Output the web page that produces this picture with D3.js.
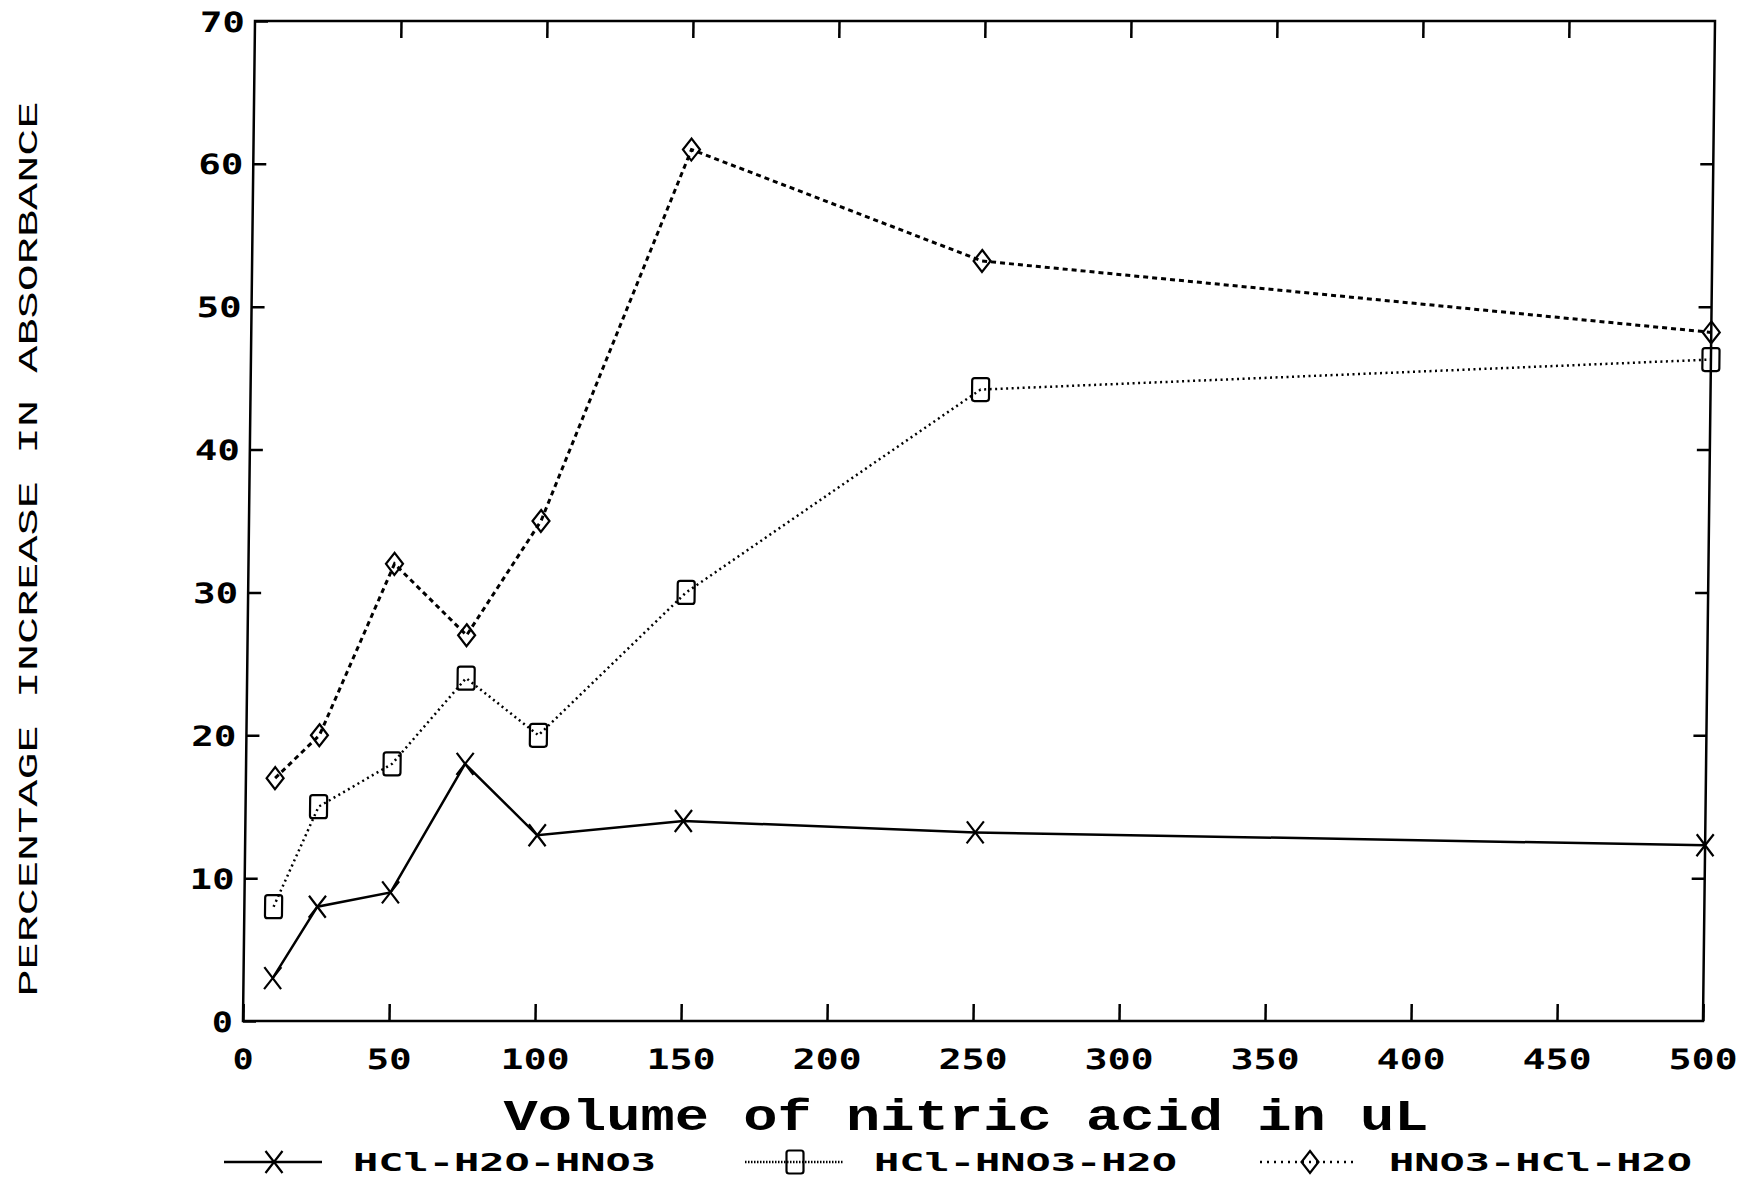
<!DOCTYPE html>
<html>
<head>
<meta charset="utf-8">
<script src="https://cdn.jsdelivr.net/npm/d3@7"></script>
<style>
  html, body { margin: 0; padding: 0; background: #fff; }
  svg { display: block; }
</style>
</head>
<body>
<svg id="chart" width="1757" height="1181"></svg>
<script>
// data
const volumes = [10, 25, 50, 75, 100, 150, 250, 500];
const hclH2oHno3 = [3, 8, 9, 18, 13, 14, 13.2, 12.3];
const hclHno3H2o = [8, 15, 18, 24, 20, 30, 44.2, 46.3];
const hno3HclH2o = [17, 20, 32, 27, 35, 61, 53.2, 48.2];

const seriesNames = ['HCl-H2O-HNO3', 'HCl-HNO3-H2O', 'HNO3-HCl-H2O'];
const xTicks = [0, 50, 100, 150, 200, 250, 300, 350, 400, 450, 500];
const yTicks = [0, 10, 20, 30, 40, 50, 60, 70];
const xTitle = 'Volume of nitric acid in uL';
const yTitle = 'PERCENTAGE INCREASE IN ABSORBANCE';

// look of each series: marker, dash pattern
const styles = [
    { marker: 'x', dash: null, width: 2.5, legendDash: null },
    { marker: 'square', dash: '2,3.5', width: 2.5, legendDash: '1.5,1.5' },
    { marker: 'diamond', dash: '5,4', width: 3, legendDash: '2,5' },
];

const svg = d3.select('#chart');
const box = { left: 249, right: 1709, top: 21, bottom: 1021 };

const x = d3.scaleLinear().domain([0, 500]).range([box.left, box.right]);
const y = d3.scaleLinear().domain([0, 70]).range([box.bottom, box.top]);

const tickFont = 'DejaVu Sans Mono, monospace';
const tickAdv = 24;

// the scan leans a little, so shear the plot block
const plot = svg.append('g').attr('transform', 'matrix(1,0,-0.012,1,6.25,0)');

function drawMarker(g, kind) {
    if (kind === 'x') {
        g.append('path').attr('d', 'M-8.5,-11L8.5,11M-8.5,11L8.5,-11');
    } else if (kind === 'square') {
        g.append('rect').attr('x', -8.5).attr('y', -11.5)
            .attr('width', 17).attr('height', 23).attr('rx', 2.5);
    } else {
        g.append('path').attr('d', 'M0,-11L8.5,0L0,11L-8.5,0Z');
    }
}

function styleTickText(sel) {
    sel.selectAll('text')
        .attr('font-family', tickFont)
        .attr('font-weight', 'bold')
        .attr('font-size', 28)
        .attr('fill', '#000')
        .attr('textLength', function () { return this.textContent.length * tickAdv - 3; })
        .attr('lengthAdjust', 'spacingAndGlyphs');
}

// axes (ticks point inwards)
const gx = plot.append('g')
    .attr('transform', `translate(0,${box.bottom})`)
    .call(d3.axisBottom(x).tickValues(xTicks).tickSizeInner(-17).tickSizeOuter(0).tickFormat(d3.format('d')));
gx.selectAll('text').attr('y', 48).attr('dy', null);
styleTickText(gx);

plot.append('g')
    .attr('transform', `translate(0,${box.top})`)
    .call(d3.axisTop(x).tickValues(xTicks.slice(1, -1)).tickSizeInner(-17).tickSizeOuter(0).tickFormat(''));

const gy = plot.append('g')
    .attr('transform', `translate(${box.left},0)`)
    .call(d3.axisLeft(y).tickValues(yTicks).tickSizeInner(-13).tickSizeOuter(0).tickFormat(d3.format('d')));
gy.selectAll('text').attr('x', -10).attr('dy', '0.36em');
styleTickText(gy);

plot.append('g')
    .attr('transform', `translate(${box.right},0)`)
    .call(d3.axisRight(y).tickValues(yTicks.slice(1, -1)).tickSizeInner(-13).tickSizeOuter(0).tickFormat(''));

plot.selectAll('.domain').remove();
plot.selectAll('.tick line').attr('stroke', '#000').attr('stroke-width', 2.5);

plot.append('rect')
    .attr('x', box.left).attr('y', box.top)
    .attr('width', box.right - box.left).attr('height', box.bottom - box.top)
    .attr('fill', 'none').attr('stroke', '#000').attr('stroke-width', 2.5);

// series
const allSeries = [hclH2oHno3, hclHno3H2o, hno3HclH2o];
const line = d3.line().x((d, i) => x(volumes[i])).y(d => y(d));

allSeries.forEach((vals, s) => {
    const st = styles[s];
    plot.append('path')
        .datum(vals)
        .attr('d', line)
        .attr('fill', 'none')
        .attr('stroke', '#000')
        .attr('stroke-width', st.width)
        .attr('stroke-dasharray', st.dash);

    plot.append('g')
        .selectAll('g')
        .data(vals)
        .join('g')
        .attr('transform', (d, i) => `translate(${x(volumes[i])},${y(d)})`)
        .attr('fill', 'none').attr('stroke', '#000').attr('stroke-width', 2.2)
        .each(function () { drawMarker(d3.select(this), st.marker); });
});

// axis titles
svg.append('text')
    .attr('x', 966).attr('y', 1130)
    .attr('text-anchor', 'middle')
    .attr('font-family', "'Liberation Mono', monospace")
    .attr('font-weight', 'bold')
    .attr('font-size', 44)
    .attr('textLength', 925).attr('lengthAdjust', 'spacingAndGlyphs')
    .text(xTitle);

svg.append('text')
    .attr('transform', 'translate(37,549) rotate(-90)')
    .attr('text-anchor', 'middle')
    .attr('font-family', "'Liberation Mono', monospace")
    .attr('font-size', 27)
    .attr('textLength', 895).attr('lengthAdjust', 'spacingAndGlyphs')
    .text(yTitle);

// legend
const legendX = [224, 745, 1260];
const legendY = 1162;
const legend = svg.append('g');
seriesNames.forEach((name, s) => {
    const st = styles[s];
    const x0 = legendX[s];
    const item = legend.append('g').attr('transform', `translate(${x0},${legendY})`);
    item.append('line')
        .attr('x1', 0).attr('x2', 98).attr('y1', 0).attr('y2', 0)
        .attr('stroke', '#000').attr('stroke-width', 2.5)
        .attr('stroke-dasharray', st.legendDash);
    const m = item.append('g').attr('transform', 'translate(50,0)')
        .attr('fill', 'none').attr('stroke', '#000').attr('stroke-width', 2.2);
    drawMarker(m, st.marker);
    item.append('text')
        .attr('x', 129).attr('y', 9)
        .attr('font-family', tickFont)
        .attr('font-weight', 'bold')
        .attr('font-size', 24)
        .attr('textLength', 303).attr('lengthAdjust', 'spacingAndGlyphs')
        .text(name);
});
</script>
</body>
</html>
